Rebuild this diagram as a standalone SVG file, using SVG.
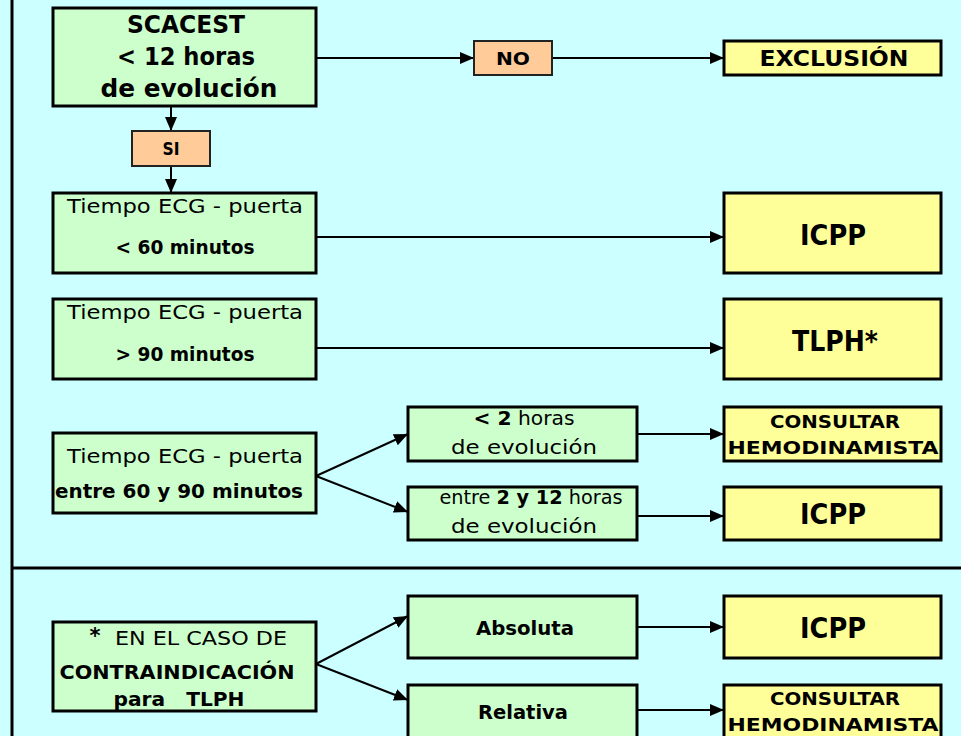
<svg xmlns="http://www.w3.org/2000/svg" width="961" height="736" viewBox="0 0 961 736">
  <defs>
    <marker id="arrow" viewBox="0 0 14 12" refX="14" refY="6" markerWidth="14" markerHeight="12" markerUnits="userSpaceOnUse" orient="auto">
      <path d="M0,0 L14,6 L0,12 Z" fill="#000"/>
    </marker>
    <style>
      text { font-family: "DejaVu Sans", "Liberation Sans", sans-serif; fill: #000; text-anchor: middle; }
      .b { font-weight: bold; }
      .r { font-weight: normal; }
      .green { fill: #CCFFCC; stroke: #000; stroke-width: 3; }
      .yellow { fill: #FFFF99; stroke: #000; stroke-width: 3; }
      .orange { fill: #FFCC99; stroke: #222; stroke-width: 2; }
      .conn { stroke: #000; stroke-width: 2; fill: none; marker-end: url(#arrow); }
      .frame { stroke: #000; stroke-width: 3; fill: none; }
    </style>
  </defs>

  <!-- background and frame lines -->
  <rect x="0" y="0" width="961" height="736" fill="#CCFFFF"/>
  <line class="frame" x1="12" y1="0" x2="12" y2="736"/>
  <line class="frame" x1="12" y1="568" x2="961" y2="568"/>

  <!-- connectors -->
  <g id="connectors">
    <line class="conn" x1="316" y1="58" x2="474" y2="58"/>
    <line class="conn" x1="553" y1="58" x2="724" y2="58"/>
    <line class="conn" x1="171" y1="106" x2="171" y2="131"/>
    <line class="conn" x1="171" y1="166" x2="171" y2="193"/>
    <line class="conn" x1="316" y1="237" x2="724" y2="237"/>
    <line class="conn" x1="316" y1="348" x2="724" y2="348"/>
    <line class="conn" x1="316" y1="476" x2="408" y2="434"/>
    <line class="conn" x1="316" y1="476" x2="408" y2="512"/>
    <line class="conn" x1="637" y1="434" x2="724" y2="434"/>
    <line class="conn" x1="637" y1="516" x2="724" y2="516"/>
    <line class="conn" x1="316" y1="664" x2="408" y2="616"/>
    <line class="conn" x1="316" y1="664" x2="408" y2="700"/>
    <line class="conn" x1="633" y1="627" x2="724" y2="627"/>
    <line class="conn" x1="633" y1="710" x2="724" y2="710"/>
  </g>

  <g id="scacest">
    <rect class="green" x="53" y="8" width="263" height="98"/>
    <text class="b" x="186" y="33" font-size="25" textLength="118" lengthAdjust="spacingAndGlyphs">SCACEST</text>
    <text class="b" x="186" y="65" font-size="25" textLength="138" lengthAdjust="spacingAndGlyphs">&lt; 12 horas</text>
    <text class="b" x="189" y="97" font-size="25" textLength="177" lengthAdjust="spacingAndGlyphs">de evolución</text>
  </g>

  <g id="no">
    <rect class="orange" x="474" y="41" width="78" height="34"/>
    <text class="b" x="513" y="65" font-size="17" textLength="34" lengthAdjust="spacingAndGlyphs">NO</text>
  </g>

  <g id="exclusion">
    <rect class="yellow" x="724" y="41" width="217" height="34"/>
    <text class="b" x="834" y="66" font-size="22" textLength="149" lengthAdjust="spacingAndGlyphs">EXCLUSIÓN</text>
  </g>

  <g id="si">
    <rect class="orange" x="132" y="131" width="78" height="35"/>
    <text class="b" x="171" y="155" font-size="17" textLength="17" lengthAdjust="spacingAndGlyphs">SI</text>
  </g>

  <g id="tiempo-menor-60">
    <rect class="green" x="53" y="193" width="263" height="80"/>
    <text class="r" x="185" y="213" font-size="20" textLength="236" lengthAdjust="spacingAndGlyphs">Tiempo ECG - puerta</text>
    <text class="b" x="185" y="254" font-size="20" textLength="139" lengthAdjust="spacingAndGlyphs">&lt; 60 minutos</text>
  </g>

  <g id="icpp-1">
    <rect class="yellow" x="724" y="193" width="217" height="80"/>
    <text class="b" x="833" y="245" font-size="29" textLength="66" lengthAdjust="spacingAndGlyphs">ICPP</text>
  </g>

  <g id="tiempo-mayor-90">
    <rect class="green" x="53" y="299" width="263" height="80"/>
    <text class="r" x="185" y="319" font-size="20" textLength="236" lengthAdjust="spacingAndGlyphs">Tiempo ECG - puerta</text>
    <text class="b" x="185" y="361" font-size="20" textLength="139" lengthAdjust="spacingAndGlyphs">&gt; 90 minutos</text>
  </g>

  <g id="tlph">
    <rect class="yellow" x="724" y="299" width="217" height="80"/>
    <text class="b" x="835" y="351" font-size="29" textLength="86" lengthAdjust="spacingAndGlyphs">TLPH*</text>
  </g>

  <g id="tiempo-60-90">
    <rect class="green" x="53" y="433" width="263" height="80"/>
    <text class="r" x="185" y="463" font-size="20" textLength="236" lengthAdjust="spacingAndGlyphs">Tiempo ECG - puerta</text>
    <text class="b" x="179" y="498" font-size="20" textLength="248" lengthAdjust="spacingAndGlyphs">entre 60 y 90 minutos</text>
  </g>

  <g id="menos-2-horas">
    <rect class="green" x="408" y="407" width="229" height="54"/>
    <text x="524" y="425" font-size="20" textLength="101" lengthAdjust="spacingAndGlyphs"><tspan class="b">&lt; 2</tspan><tspan class="r"> horas</tspan></text>
    <text class="r" x="524" y="454" font-size="20" textLength="146" lengthAdjust="spacingAndGlyphs">de evolución</text>
  </g>

  <g id="consultar-1">
    <rect class="yellow" x="724" y="407" width="217" height="54"/>
    <text class="b" x="835" y="428" font-size="18" textLength="130" lengthAdjust="spacingAndGlyphs">CONSULTAR</text>
    <text class="b" x="833" y="454" font-size="18" textLength="211" lengthAdjust="spacingAndGlyphs">HEMODINAMISTA</text>
  </g>

  <g id="entre-2-12-horas">
    <rect class="green" x="408" y="487" width="229" height="53"/>
    <text x="531" y="504" font-size="20" textLength="183" lengthAdjust="spacingAndGlyphs"><tspan class="r">entre </tspan><tspan class="b">2 y 12</tspan><tspan class="r"> horas</tspan></text>
    <text class="r" x="524" y="533" font-size="20" textLength="146" lengthAdjust="spacingAndGlyphs">de evolución</text>
  </g>

  <g id="icpp-2">
    <rect class="yellow" x="724" y="487" width="217" height="53"/>
    <text class="b" x="833" y="524" font-size="29" textLength="66" lengthAdjust="spacingAndGlyphs">ICPP</text>
  </g>

  <g id="contraindicacion">
    <rect class="green" x="53" y="622" width="263" height="89"/>
    <text class="b" x="95" y="643" font-size="22" textLength="11" lengthAdjust="spacingAndGlyphs">*</text>
    <text class="r" x="201" y="645" font-size="19" textLength="172" lengthAdjust="spacingAndGlyphs">EN EL CASO DE</text>
    <text class="b" x="177" y="679" font-size="19" textLength="235" lengthAdjust="spacingAndGlyphs">CONTRAINDICACIÓN</text>
    <text class="b" x="179" y="706" font-size="19" textLength="131" lengthAdjust="spacingAndGlyphs" xml:space="preserve">para   TLPH</text>
  </g>

  <g id="absoluta">
    <rect class="green" x="408" y="596" width="229" height="62"/>
    <text class="b" x="525" y="635" font-size="19" textLength="98" lengthAdjust="spacingAndGlyphs">Absoluta</text>
  </g>

  <g id="icpp-3">
    <rect class="yellow" x="724" y="596" width="217" height="62"/>
    <text class="b" x="833" y="638" font-size="29" textLength="66" lengthAdjust="spacingAndGlyphs">ICPP</text>
  </g>

  <g id="relativa">
    <rect class="green" x="408" y="685" width="229" height="60"/>
    <text class="b" x="523" y="719" font-size="19" textLength="90" lengthAdjust="spacingAndGlyphs">Relativa</text>
  </g>

  <g id="consultar-2">
    <rect class="yellow" x="724" y="685" width="217" height="60"/>
    <text class="b" x="835" y="705" font-size="18" textLength="130" lengthAdjust="spacingAndGlyphs">CONSULTAR</text>
    <text class="b" x="833" y="731" font-size="18" textLength="211" lengthAdjust="spacingAndGlyphs">HEMODINAMISTA</text>
  </g>
</svg>
